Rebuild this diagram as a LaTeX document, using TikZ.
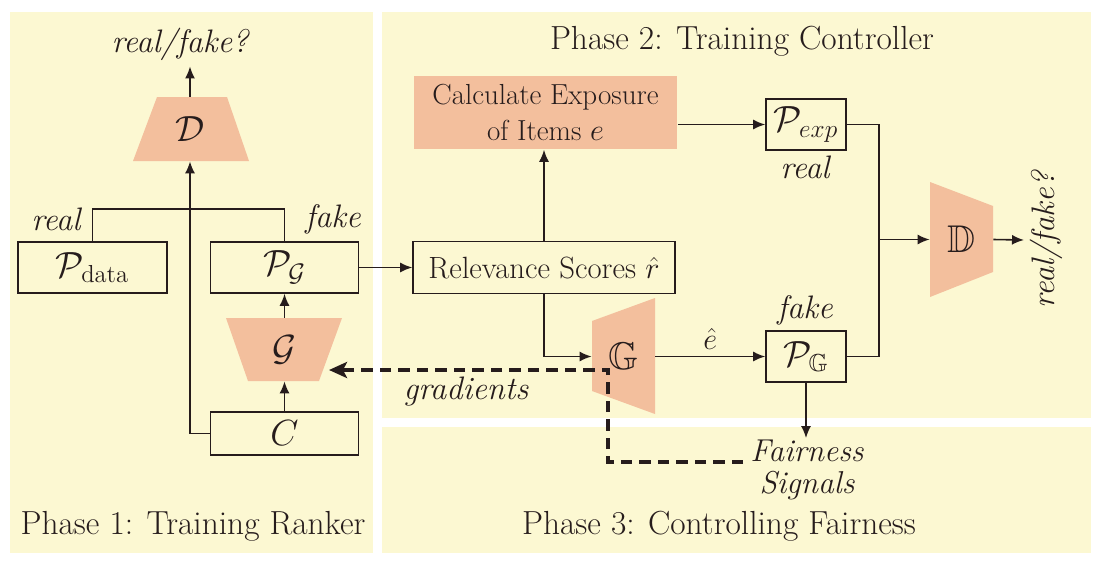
\documentclass[tikz,border=0pt]{standalone}
\usepackage{amsmath}
\usepackage{amssymb}
\usepackage{xcolor}
\usetikzlibrary{arrows.meta,calc}

\definecolor{panelbg}{RGB}{252,248,210}
\definecolor{netfill}{RGB}{243,191,157}
\definecolor{ink}{RGB}{38,28,28}

\tikzset{
	box/.style={draw=ink, line width=0.9pt, inner sep=0pt, text=ink, font=\fontsize{20}{24}\selectfont},
	net/.style={inner sep=0pt, text=ink, font=\fontsize{22}{26}\selectfont},
	lbl/.style={text=ink, font=\fontsize{18.5}{22}\selectfont\itshape},
	phase/.style={text=ink, font=\fontsize{19}{22}\selectfont},
	flow/.style={draw=ink, line width=0.9pt, -{Latex[length=0.24cm,width=0.2cm]}},
	link/.style={draw=ink, line width=0.9pt},
	gradline/.style={draw=ink, line width=2.7pt, dash pattern=on 0.23cm off 0.14cm, -{Stealth[length=0.36cm,width=0.32cm,inset=0.08cm]}},
}

\begin{document}
\begin{tikzpicture}[x=0.02cm,y=-0.02cm]
				\useasboundingbox (0,0) rectangle (1105,565);
				\fill[panelbg] (10,12) rectangle (373,553);
				\fill[panelbg] (382,12) rectangle (1091,418);
				\fill[panelbg] (382,427) rectangle (1091,553);

				\fill[netfill] (157,97) -- (227,97) -- (249,161) -- (133,161) -- cycle;
				\fill[netfill] (226,318) -- (342,318) -- (319,381) -- (248,381) -- cycle;
				\fill[netfill] (930,182) -- (993,206) -- (993,272) -- (930,297) -- cycle;
				\fill[netfill] (592,321) -- (655,298) -- (655,414) -- (592,391) -- cycle;

				\node[net, minimum width=1.4cm, minimum height=1.28cm] (D1) at (190,129) {$\mathcal{D}$};
				\node[net, minimum width=2.32cm, minimum height=1.26cm] (G1) at (284.5,349.5) {$\mathcal{G}$};
				\node[net, minimum width=1.26cm, minimum height=1.3cm] (D2) at (961.5,239.5) {$\mathbb{D}$};
				\node[net, minimum width=1.26cm, minimum height=1.3cm] (G2) at (623.5,356.5) {$\mathbb{G}$};

				\node[box, minimum width=2.98cm, minimum height=1.02cm] (Pdata) at (92.5,267.5) {$\mathcal{P}_{\text{data}}$};
				\node[box, minimum width=2.96cm, minimum height=1.02cm] (PG) at (284.5,267.5) {$\mathcal{P}_{\mathcal{G}}$};
				\node[box, minimum width=2.96cm, minimum height=0.86cm] (C) at (284.5,433.5) {$C$};
				\node[box, draw=none, fill=netfill, align=center, minimum width=5.26cm, minimum height=1.46cm, font=\fontsize{16.5}{20}\selectfont] (calc) at (545.5,112.5) {Calculate Exposure\\of Items $e$};
				\node[box, minimum width=5.24cm, minimum height=1.04cm, font=\fontsize{17.5}{21}\selectfont] (rel) at (544,267.5) {Relevance Scores $\hat{r}$};
				\node[box, minimum width=1.6cm, minimum height=1.02cm] (Pexp) at (806,124.5) {$\mathcal{P}_{exp}$};
				\node[box, minimum width=1.6cm, minimum height=1.02cm] (PG2) at (806,356.5) {$\mathcal{P}_{\mathbb{G}}$};

				\node[lbl] (rf1) at (180,44) {real/fake?};
				\node[lbl] (real1) at (56,219) {real};
				\node[lbl] (fake1) at (333,219) {fake};
				\node[lbl] (real2) at (805,167) {real};
				\node[lbl] (fake2) at (805,310) {fake};
				\node[lbl, rotate=90, anchor=north] (rf2) at (1024,240) {real/fake?};
				\node[lbl] (grad) at (466,392) {gradients};
				\node[lbl, align=center, inner sep=1pt, font=\fontsize{18}{18}\selectfont\itshape] (fair) at (807,470) {Fairness\\Signals};

				\node[phase] (ph1) at (193,526) {Phase 1: Training Ranker};
				\node[phase] (ph2) at (742,41) {Phase 2: Training Controller};
				\node[phase] (ph3) at (719,526) {Phase 3: Controlling Fairness};

				\coordinate (mrg) at ($(Pexp.east)+(32,0)$);
				\coordinate (sigin) at (743,462);
				\coordinate (gturn) at (608,370);
				\coordinate (gin) at (329,370);

				\draw[flow] (D1.north) -- (D1.north |- rf1.south);
				\draw[flow] (C.west) -| (D1.south);
				\draw[link] (Pdata.north) -- ++(0,-32) -| (PG.north);
				\draw[flow] (C.north) -- (G1.south);
				\draw[flow] (G1.north) -- (PG.south);
				\draw[flow] (PG.east) -- (rel.west);
				\draw[flow] (rel.north) -- (rel.north |- calc.south);
				\draw[flow] (calc.east |- Pexp.west) -- (Pexp.west);
				\draw[link] (Pexp.east) -- (mrg) |- (PG2.east);
				\draw[flow] (mrg |- D2.west) -- (D2.west);
				\draw[flow] (D2.east) -- (rf2.north);
				\draw[flow] (rel.south) |- (G2.west);
				\draw[flow] (G2.east) -- node[lbl, above, font=\fontsize{18}{22}\selectfont] (ehat) {$\hat{e}$} (PG2.west);
				\draw[flow] (PG2.south) -- (PG2.south |- fair.north);
				\draw[gradline] (sigin) -| (gturn) -- (gin);
			\end{tikzpicture}
\end{document}
